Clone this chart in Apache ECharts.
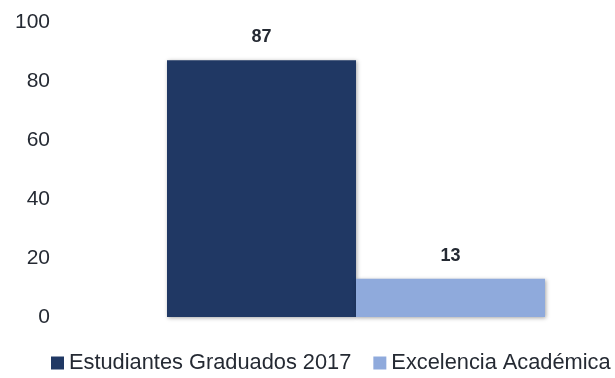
<!DOCTYPE html>
<html lang="es">
<head>
    <meta charset="UTF-8">
    <title>Estudiantes graduados</title>
    <script type="text/javascript" src="https://cdn.jsdelivr.net/npm/echarts@6/dist/echarts.min.js"></script>
    <style>
        html, body { margin: 0; padding: 0; background: #fff; }
    </style>
</head>
<body>
<div id="myChart" style="width: 615px;height: 378px;"></div>

<script type="text/javascript">
    // datos del grafico
    var categorias = [''];
    var serieNombres = ['Estudiantes Graduados 2017', 'Excelencia Académica'];
    var graduados = [87];
    var excelencia = [13];
    var colores = ['#203864', '#8FAADC'];

    var fuente = "'Liberation Sans', Arial, sans-serif";
    var colorTexto = '#252a33';
    var myChart = echarts.init(document.getElementById('myChart'));

    var sombra = {
        shadowColor: 'rgba(0,0,0,0.35)',
        shadowBlur: 4,
        shadowOffsetX: 1,
        shadowOffsetY: 1
    };

    myChart.setOption({
        animation: false,
        grid: {left: 112, right: 15, top: 22, bottom: 61},
        legend: {
            bottom: 4,
            left: 51,
            padding: 0,
            width: 564,
            itemWidth: 13,
            itemHeight: 13,
            itemGap: 22,
            icon: 'rect',
            textStyle: {fontFamily: fuente, fontSize: 21.8, color: colorTexto},
            data: serieNombres
        },
        xAxis: {
            type: 'category',
            data: categorias,
            axisLine: {show: false},
            axisTick: {show: false},
            axisLabel: {show: false}
        },
        yAxis: {
            type: 'value',
            min: 0,
            max: 100,
            interval: 20,
            splitLine: {show: false},
            axisLine: {show: false},
            axisTick: {show: false},
            axisLabel: {margin: 62, fontFamily: fuente, fontSize: 21, color: colorTexto}
        },
        series: [{
            name: serieNombres[0],
            type: 'bar',
            data: graduados,
            barWidth: 189,
            barGap: '0%',
            itemStyle: Object.assign({color: colores[0]}, sombra),
            label: {show: true, position: 'top', distance: 14, fontFamily: fuente, fontWeight: 'bold', fontSize: 18, color: colorTexto}
        }, {
            name: serieNombres[1],
            type: 'bar',
            data: excelencia,
            barWidth: 189,
            itemStyle: Object.assign({color: colores[1]}, sombra),
            label: {show: true, position: 'top', distance: 14, fontFamily: fuente, fontWeight: 'bold', fontSize: 18, color: colorTexto}
        }]
    });
</script>
</body>
</html>
